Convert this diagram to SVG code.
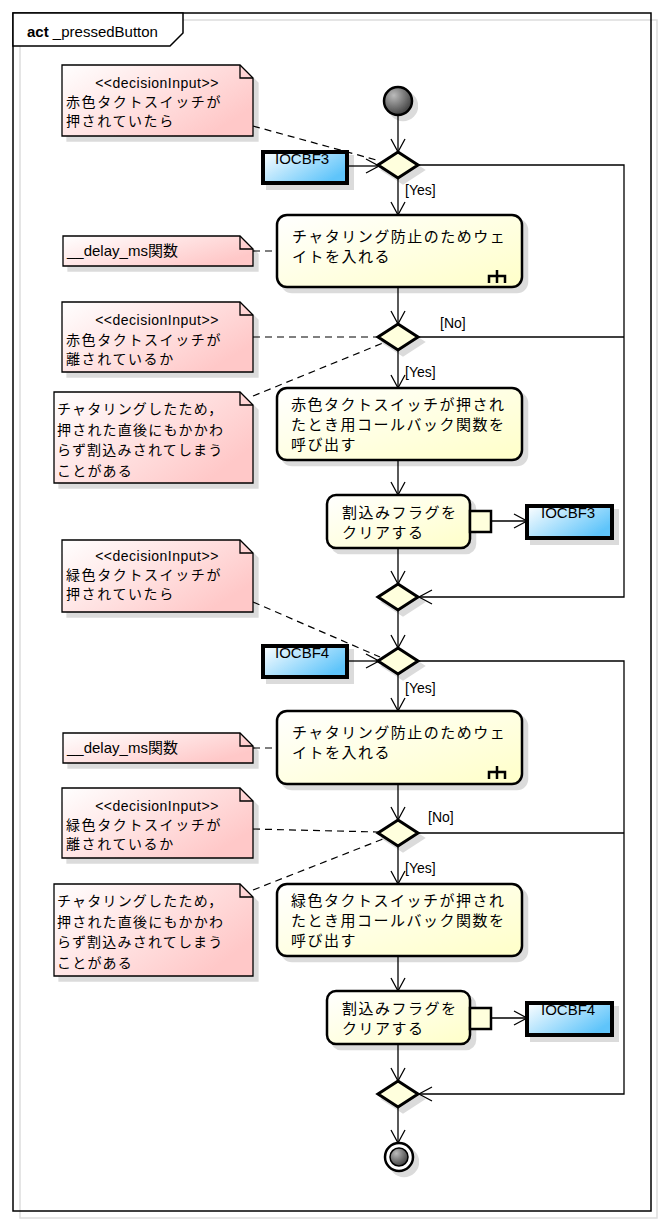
<svg xmlns="http://www.w3.org/2000/svg" width="664" height="1225" viewBox="0 0 664 1225">
<style>
.act{fill:url(#gA);stroke:#000;stroke-width:2.5}
.note{fill:url(#gN);stroke:#000;stroke-width:1.3}
.fold{fill:none;stroke:#000;stroke-width:1.3}
.obj{fill:url(#gO);stroke:#000;stroke-width:4}
.dec{fill:#ffffdd;stroke:#000;stroke-width:3}
.ln{stroke:#000;stroke-width:1.3;fill:none}
.dash{stroke:#000;stroke-width:1.2;stroke-dasharray:7,5;fill:none}
.jp{font-family:"Noto Sans CJK JP",sans-serif;font-size:15px;letter-spacing:1.5px;fill:#000}
.jpn{font-family:"Noto Sans CJK JP",sans-serif;font-size:14px;letter-spacing:1.6px;fill:#000}
.lt{font-family:"Liberation Sans",sans-serif;font-size:14px;fill:#000}
.st{font-family:"Liberation Sans",sans-serif;font-size:14px;letter-spacing:0.5px;fill:#000}
.ob{font-family:"Liberation Sans",sans-serif;font-size:15px;fill:#000}
.icon{fill:none;stroke:#000;stroke-width:2.5}
</style>
<defs>
<linearGradient id="gA" x1="0" y1="0" x2="1" y2="1"><stop offset="0" stop-color="#ffffff"/><stop offset="1" stop-color="#ffffc8"/></linearGradient>
<linearGradient id="gN" x1="0" y1="0" x2="1" y2="0.6"><stop offset="0" stop-color="#ffffff"/><stop offset="1" stop-color="#ffc8c8"/></linearGradient>
<linearGradient id="gO" x1="0" y1="0" x2="1" y2="0.6"><stop offset="0" stop-color="#ffffff"/><stop offset="1" stop-color="#5ec4fa"/></linearGradient>
<radialGradient id="gS" cx="0.35" cy="0.3" r="0.8"><stop offset="0" stop-color="#bbbbbb"/><stop offset="1" stop-color="#333333"/></radialGradient>
<filter id="sh" x="-10%" y="-10%" width="130%" height="140%">
<feOffset in="SourceAlpha" dx="5" dy="5" result="o"/>
<feFlood flood-color="#000" flood-opacity="0.14"/>
<feComposite in2="o" operator="in" result="s"/>
<feMerge><feMergeNode in="s"/><feMergeNode in="SourceGraphic"/></feMerge>
</filter>
<marker id="ar" markerWidth="16" markerHeight="16" refX="14" refY="8" orient="auto" markerUnits="userSpaceOnUse"><path d="M1,1 L14,8 L1,15" fill="none" stroke="#000" stroke-width="1.3"/></marker>
</defs>
<rect width="664" height="1225" fill="#fff"/>
<g id="frame">
<rect x="20" y="20" width="637" height="1198" fill="none" stroke="#dddddd" stroke-width="1.5"/>
<rect x="13" y="13" width="638" height="1198" fill="none" stroke="#000" stroke-width="1.5"/>
<path d="M13,13 H183 V33 L170,46 H13 Z" fill="#fff" stroke="#000" stroke-width="1.5"/>
<text x="27" y="37" class="lt" style="font-size:15px"><tspan font-weight="bold">act</tspan> _pressedButton</text>
</g>

<g id="connectors">
<line class="ln" x1="398" y1="115" x2="398" y2="152" marker-end="url(#ar)"/>
<line class="ln" x1="347" y1="166" x2="379" y2="166" marker-end="url(#ar)"/>
<line class="ln" x1="398" y1="178" x2="398" y2="215" marker-end="url(#ar)"/>
<text x="405" y="195" class="lt">[Yes]</text>
<polyline class="ln" points="418,165 624,165 624,597 419,597" marker-end="url(#ar)"/>
<line class="ln" x1="398" y1="287" x2="398" y2="324" marker-end="url(#ar)"/>
<line class="ln" x1="398" y1="350" x2="398" y2="388" marker-end="url(#ar)"/>
<text x="405" y="377" class="lt">[Yes]</text>
<line class="ln" x1="418" y1="337" x2="624" y2="337"/>
<text x="440" y="328" class="lt">[No]</text>
<line class="ln" x1="398" y1="460" x2="398" y2="495" marker-end="url(#ar)"/>
<line class="ln" x1="491" y1="521" x2="527" y2="521" marker-end="url(#ar)"/>
<line class="ln" x1="398" y1="548" x2="398" y2="584" marker-end="url(#ar)"/>
<line class="ln" x1="398" y1="610" x2="398" y2="648" marker-end="url(#ar)"/>

<line class="ln" x1="347" y1="661" x2="379" y2="661" marker-end="url(#ar)"/>
<line class="ln" x1="398" y1="674" x2="398" y2="711" marker-end="url(#ar)"/>
<text x="405" y="693" class="lt">[Yes]</text>
<polyline class="ln" points="418,661 624,661 624,1094 419,1094" marker-end="url(#ar)"/>
<line class="ln" x1="398" y1="784" x2="398" y2="820" marker-end="url(#ar)"/>
<line class="ln" x1="398" y1="846" x2="398" y2="884" marker-end="url(#ar)"/>
<text x="405" y="873" class="lt">[Yes]</text>
<line class="ln" x1="418" y1="833" x2="624" y2="833"/>
<text x="428" y="822" class="lt">[No]</text>
<line class="ln" x1="398" y1="956" x2="398" y2="991" marker-end="url(#ar)"/>
<line class="ln" x1="491" y1="1018" x2="527" y2="1018" marker-end="url(#ar)"/>
<line class="ln" x1="398" y1="1044" x2="398" y2="1081" marker-end="url(#ar)"/>
<line class="ln" x1="398" y1="1107" x2="398" y2="1143" marker-end="url(#ar)"/>

<line class="dash" x1="253" y1="126" x2="380" y2="161"/>
<line class="dash" x1="253" y1="251" x2="277" y2="251"/>
<line class="dash" x1="253" y1="337" x2="378" y2="337"/>
<line class="dash" x1="253" y1="396" x2="383" y2="343"/>
<line class="dash" x1="253" y1="602" x2="380" y2="657"/>
<line class="dash" x1="253" y1="748" x2="277" y2="748"/>
<line class="dash" x1="253" y1="829" x2="378" y2="832"/>
<line class="dash" x1="253" y1="890" x2="383" y2="839"/>
</g>

<g id="start"><circle cx="398" cy="101" r="14" fill="url(#gS)" stroke="#000" stroke-width="2.5" filter="url(#sh)"/></g>

<g id="note1">
<path class="note" filter="url(#sh)" d="M62,65 H240 L253,78 V136 H62 Z"/>
<path class="fold" d="M240,65 V78 H253"/>
<text x="157" y="88" class="st" text-anchor="middle">&lt;&lt;decisionInput&gt;&gt;</text>
<text x="66" y="107" class="jpn">赤色タクトスイッチが</text>
<text x="66" y="126" class="jpn">押されていたら</text>
</g>

<g id="obj1">
<rect class="obj" x="263" y="152" width="84" height="31" filter="url(#sh)"/>
<text x="275" y="164" class="ob">IOCBF3</text>
</g>

<g id="dec1"><polygon class="dec" points="398,152 418,165 398,178 378,165" filter="url(#sh)"/></g>

<g id="act1">
<rect class="act" x="277" y="215" width="245" height="72" rx="10" filter="url(#sh)"/>
<text x="292" y="242" class="jp">チャタリング防止のためウェ</text>
<text x="292" y="262" class="jp">イトを入れる</text>
<path class="icon" d="M497,270 V283 M489,283 V276 H505 V283"/>
</g>

<g id="delay1">
<path class="note" filter="url(#sh)" d="M63,236 H240 L253,249 V266 H63 Z"/>
<path class="fold" d="M240,236 V249 H253"/>
<text x="67" y="256" class="lt" style="font-size:15px">__delay_ms<tspan style="font-family:'Noto Sans CJK JP',sans-serif">関数</tspan></text>
</g>

<g id="dec2"><polygon class="dec" points="398,324 418,337 398,350 378,337" filter="url(#sh)"/></g>

<g id="note2">
<path class="note" filter="url(#sh)" d="M62,302 H240 L253,315 V372 H62 Z"/>
<path class="fold" d="M240,302 V315 H253"/>
<text x="157" y="325" class="st" text-anchor="middle">&lt;&lt;decisionInput&gt;&gt;</text>
<text x="66" y="345" class="jpn">赤色タクトスイッチが</text>
<text x="66" y="364" class="jpn">離されているか</text>
</g>

<g id="note3">
<path class="note" filter="url(#sh)" d="M54,392 H240 L253,405 V483 H54 Z"/>
<path class="fold" d="M240,392 V405 H253"/>
<text x="57" y="414" class="jpn" style="letter-spacing:1.2px">チャタリングしたため，</text>
<text x="57" y="435" class="jpn" style="letter-spacing:1.2px">押された直後にもかかわ</text>
<text x="57" y="455" class="jpn" style="letter-spacing:1.2px">らず割込みされてしまう</text>
<text x="57" y="476" class="jpn" style="letter-spacing:1.2px">ことがある</text>
</g>

<g id="act2">
<rect class="act" x="277" y="388" width="245" height="72" rx="10" filter="url(#sh)"/>
<text x="291" y="410" class="jp">赤色タクトスイッチが押され</text>
<text x="291" y="430" class="jp">たとき用コールバック関数を</text>
<text x="291" y="450" class="jp">呼び出す</text>
</g>

<g id="act3">
<rect class="act" x="327" y="495" width="143" height="53" rx="9" filter="url(#sh)"/>
<rect x="470" y="511" width="21" height="21" fill="#ffffdd" stroke="#000" stroke-width="2.5"/>
<text x="342" y="518" class="jp">割込みフラグを</text>
<text x="342" y="538" class="jp">クリアする</text>
</g>

<g id="obj2">
<rect class="obj" x="527" y="506" width="85" height="32" filter="url(#sh)"/>
<text x="541" y="518" class="ob">IOCBF3</text>
</g>

<g id="merge1"><polygon class="dec" points="398,584 418,597 398,610 378,597" filter="url(#sh)"/></g>

<g id="note4">
<path class="note" filter="url(#sh)" d="M62,540 H240 L253,553 V612 H62 Z"/>
<path class="fold" d="M240,540 V553 H253"/>
<text x="157" y="561" class="st" text-anchor="middle">&lt;&lt;decisionInput&gt;&gt;</text>
<text x="66" y="580" class="jpn">緑色タクトスイッチが</text>
<text x="66" y="599" class="jpn">押されていたら</text>
</g>

<g id="obj3">
<rect class="obj" x="263" y="646" width="84" height="31" filter="url(#sh)"/>
<text x="275" y="658" class="ob">IOCBF4</text>
</g>

<g id="dec3"><polygon class="dec" points="398,648 418,661 398,674 378,661" filter="url(#sh)"/></g>

<g id="act4">
<rect class="act" x="277" y="711" width="245" height="73" rx="10" filter="url(#sh)"/>
<text x="292" y="738" class="jp">チャタリング防止のためウェ</text>
<text x="292" y="758" class="jp">イトを入れる</text>
<path class="icon" d="M497,766 V779 M489,779 V772 H505 V779"/>
</g>

<g id="delay2">
<path class="note" filter="url(#sh)" d="M63,733 H240 L253,746 V763 H63 Z"/>
<path class="fold" d="M240,733 V746 H253"/>
<text x="67" y="753" class="lt" style="font-size:15px">__delay_ms<tspan style="font-family:'Noto Sans CJK JP',sans-serif">関数</tspan></text>
</g>

<g id="dec4"><polygon class="dec" points="398,820 418,833 398,846 378,833" filter="url(#sh)"/></g>

<g id="note5">
<path class="note" filter="url(#sh)" d="M62,788 H240 L253,801 V858 H62 Z"/>
<path class="fold" d="M240,788 V801 H253"/>
<text x="157" y="811" class="st" text-anchor="middle">&lt;&lt;decisionInput&gt;&gt;</text>
<text x="66" y="830" class="jpn">緑色タクトスイッチが</text>
<text x="66" y="849" class="jpn">離されているか</text>
</g>

<g id="note6">
<path class="note" filter="url(#sh)" d="M54,884 H240 L253,897 V976 H54 Z"/>
<path class="fold" d="M240,884 V897 H253"/>
<text x="57" y="906" class="jpn" style="letter-spacing:1.2px">チャタリングしたため，</text>
<text x="57" y="927" class="jpn" style="letter-spacing:1.2px">押された直後にもかかわ</text>
<text x="57" y="947" class="jpn" style="letter-spacing:1.2px">らず割込みされてしまう</text>
<text x="57" y="968" class="jpn" style="letter-spacing:1.2px">ことがある</text>
</g>

<g id="act5">
<rect class="act" x="277" y="884" width="245" height="72" rx="10" filter="url(#sh)"/>
<text x="291" y="906" class="jp">緑色タクトスイッチが押され</text>
<text x="291" y="926" class="jp">たとき用コールバック関数を</text>
<text x="291" y="946" class="jp">呼び出す</text>
</g>

<g id="act6">
<rect class="act" x="327" y="991" width="143" height="53" rx="9" filter="url(#sh)"/>
<rect x="470" y="1008" width="21" height="21" fill="#ffffdd" stroke="#000" stroke-width="2.5"/>
<text x="342" y="1014" class="jp">割込みフラグを</text>
<text x="342" y="1034" class="jp">クリアする</text>
</g>

<g id="obj4">
<rect class="obj" x="527" y="1003" width="85" height="32" filter="url(#sh)"/>
<text x="541" y="1015" class="ob">IOCBF4</text>
</g>

<g id="merge2"><polygon class="dec" points="398,1081 418,1094 398,1107 378,1094" filter="url(#sh)"/></g>

<g id="end">
<circle cx="399" cy="1157" r="14" fill="#fff" stroke="#000" stroke-width="2.5" filter="url(#sh)"/>
<circle cx="399" cy="1157" r="9" fill="url(#gS)" stroke="#000" stroke-width="1.5"/>
</g>
</svg>
